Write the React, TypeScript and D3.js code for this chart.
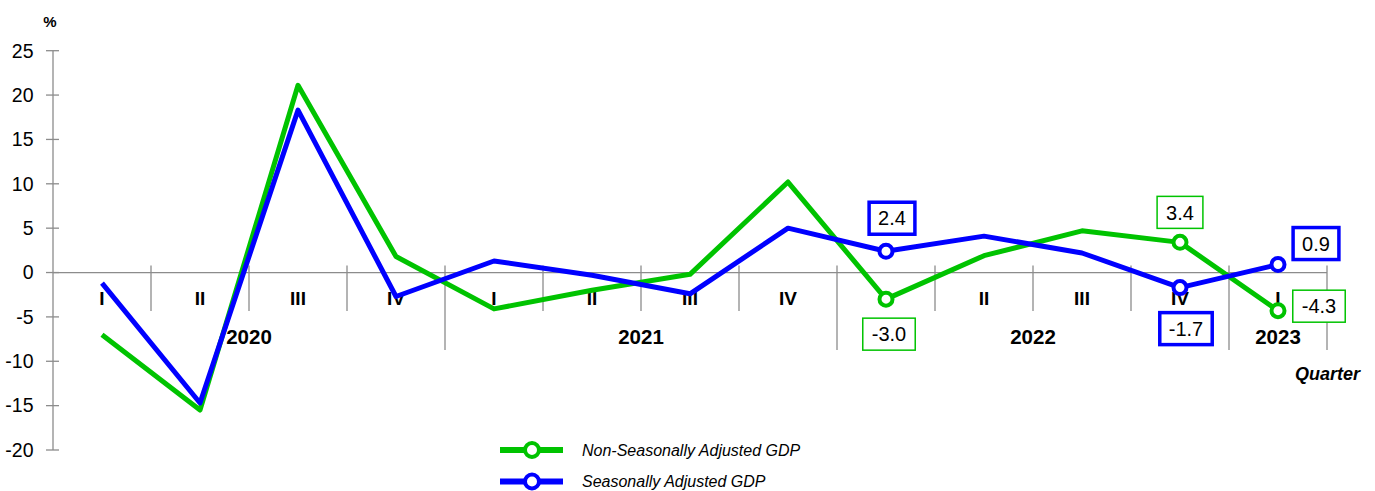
import React from "react";
import * as d3 from "d3";

const quarters = ["I", "II", "III", "IV", "I", "II", "III", "IV", "I", "II", "III", "IV", "I"];
const yearLabels = ["2020", "2021", "2022", "2023"];
const yearSpans = [4, 4, 4, 1];
const nonSeasonal = [-7.0, -15.5, 21.1, 1.8, -4.1, -2.0, -0.2, 10.2, -3.0, 1.9, 4.7, 3.4, -4.3];
const seasonal = [-1.2, -14.7, 18.3, -2.7, 1.3, -0.3, -2.4, 5.0, 2.4, 4.1, 2.2, -1.7, 0.9];
const yTicks = [25, 20, 15, 10, 5, 0, -5, -10, -15, -20];
const markerIdx = [8, 11, 12];

const GREEN = "#00c300";
const BLUE = "#0000ff";
const AXIS = "#8c8c8c";
const FONT = "'Liberation Sans', Arial, sans-serif";

// annotation layout (offsets from the point)
const annotations = [
  { series: "sa", idx: 8, dx: 6, dy: -33 },
  { series: "nsa", idx: 8, dx: 3, dy: 35 },
  { series: "nsa", idx: 11, dx: 0, dy: -30 },
  { series: "sa", idx: 11, dx: 6, dy: 41 },
  { series: "sa", idx: 12, dx: 38, dy: -21 },
  { series: "nsa", idx: 12, dx: 41, dy: -4.5 },
];

function textW(s: string) {
  let w = 0;
  for (const c of s) w += c === "." ? 5.56 : c === "-" ? 6.66 : 11.12;
  return w;
}

export default function App() {
  const W = 1375, H = 491;
  const x = d3.scaleBand<number>().domain(quarters.map((_, i) => i)).range([53, 1327]).padding(0);
  const y = d3.scaleLinear().domain([-20, 25]).range([450, 50.7]);
  const cx = (i: number) => (x(i) as number) + x.bandwidth() / 2;
  const line = d3.line<number>().x((_, i) => cx(i)).y((d) => y(d));

  const yearBounds: number[] = [0];
  yearSpans.forEach((s) => yearBounds.push(yearBounds[yearBounds.length - 1] + s));
  const boundX = (k: number) => 53 + k * x.bandwidth();
  const y0 = y(0);

  return (
    <svg width={W} height={H} style={{ position: "absolute", left: 0, top: 0, fontFamily: FONT }}>
      <rect width={W} height={H} fill="#fff" />
      {/* y axis */}
      <line x1={53} x2={53} y1={y(25)} y2={y(-20)} stroke={AXIS} strokeWidth={1.3} />
      {yTicks.map((t) => (
        <g key={t}>
          <line x1={46} x2={59} y1={y(t)} y2={y(t)} stroke={AXIS} strokeWidth={1.3} />
          <text x={33.5} y={y(t)} dy="0.35em" textAnchor="end" fontSize={19.5} fill="#000">{t}</text>
        </g>
      ))}
      <text x={50} y={27} textAnchor="middle" fontSize={15} fontWeight="bold" fill="#000">%</text>
      {/* x axis */}
      <line x1={53} x2={1327} y1={y0} y2={y0} stroke={AXIS} strokeWidth={1.3} />
      {quarters.map((_, k) => k + 1).map((k) => {
        const isYear = yearBounds.includes(k);
        return (
          <line key={k} x1={boundX(k)} x2={boundX(k)} y1={y0 - 7} y2={isYear ? 350 : 311} stroke={AXIS} strokeWidth={1.3} />
        );
      })}
      {quarters.map((q, i) => (
        <text key={i} x={cx(i)} y={305} textAnchor="middle" fontSize={19} fontWeight="bold" fill="#000">{q}</text>
      ))}
      {yearLabels.map((lab, k) => (
        <text key={lab} x={(boundX(yearBounds[k]) + boundX(yearBounds[k + 1])) / 2} y={344} textAnchor="middle" fontSize={20.5} fontWeight="bold" fill="#000">{lab}</text>
      ))}
      <text x={1360} y={380} textAnchor="end" fontSize={18} fontWeight="bold" fontStyle="italic" fill="#000">Quarter</text>
      {/* lines */}
      <path d={line(nonSeasonal) || ""} fill="none" stroke={GREEN} strokeWidth={5} strokeLinejoin="round" />
      <path d={line(seasonal) || ""} fill="none" stroke={BLUE} strokeWidth={5} strokeLinejoin="round" />
      {markerIdx.map((i) => (
        <g key={i}>
          <circle cx={cx(i)} cy={y(nonSeasonal[i])} r={6.5} fill="#fff" stroke={GREEN} strokeWidth={4} />
          <circle cx={cx(i)} cy={y(seasonal[i])} r={6.5} fill="#fff" stroke={BLUE} strokeWidth={4} />
        </g>
      ))}
      {/* annotation boxes */}
      {annotations.map((a, k) => {
        const v = a.series === "sa" ? seasonal[a.idx] : nonSeasonal[a.idx];
        const lab = v.toFixed(1);
        const px = cx(a.idx) + a.dx, py = y(v) + a.dy;
        const w = textW(lab) + 18, h = 32;
        const isSa = a.series === "sa";
        return (
          <g key={k}>
            <rect x={px - w / 2} y={py - h / 2} width={w} height={h} fill="#fff" stroke={isSa ? BLUE : GREEN} strokeWidth={isSa ? 3.5 : 1.5} />
            <text x={px} y={py} dy="0.36em" textAnchor="middle" fontSize={20} fill="#000">{lab}</text>
          </g>
        );
      })}
      {/* legend */}
      {[{ c: GREEN, t: "Non-Seasonally Adjusted GDP", yy: 450 }, { c: BLUE, t: "Seasonally Adjusted GDP", yy: 481.5 }].map((l) => (
        <g key={l.t}>
          <line x1={500} x2={563} y1={l.yy} y2={l.yy} stroke={l.c} strokeWidth={6} />
          <circle cx={532} cy={l.yy} r={7} fill="#fff" stroke={l.c} strokeWidth={4} />
          <text x={582} y={l.yy} dy="0.35em" fontSize={16} fontStyle="italic" fill="#000">{l.t}</text>
        </g>
      ))}
    </svg>
  );
}
